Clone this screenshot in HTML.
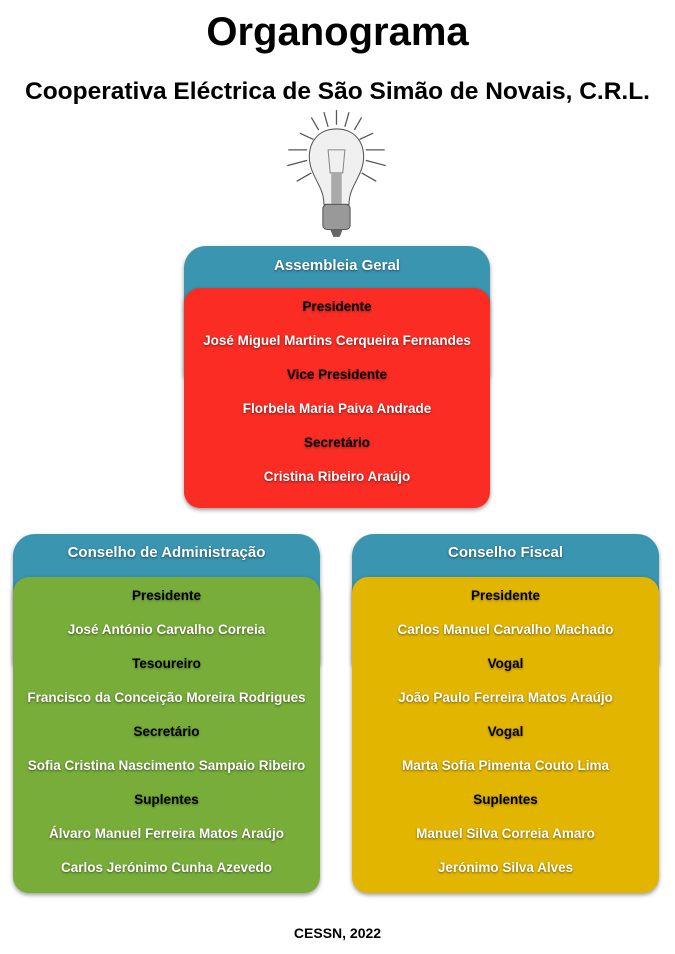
<!DOCTYPE html>
<html><head><meta charset="utf-8"><style>
body{margin:0;width:675px;height:954px;background:#fff;font-family:"Liberation Sans",sans-serif;position:relative;overflow:hidden}
.t{position:absolute;left:0;width:675px;text-align:center;font-weight:bold;color:#000}
.hd{position:absolute;background:#3a95b0;border-radius:22px 22px 0 0;color:#fff;font-weight:bold;font-size:15px;text-align:center;box-shadow:0 2px 4px rgba(0,0,0,.4);text-shadow:0 1px 2px rgba(0,0,0,.5)}
.bd{position:absolute;border-radius:16px;box-shadow:0 2px 4px rgba(0,0,0,.4)}
.r{position:absolute;left:0;width:100%;text-align:center;font-weight:bold;font-size:13.5px;line-height:18px}
.k{color:#000;text-shadow:0 1px 2px rgba(0,0,0,.35)}
.w{color:#fff;text-shadow:0 1px 2px rgba(0,0,0,.5)}
</style></head><body>
<div class="t" style="top:10px;font-size:40px">Organograma</div>
<div class="t" style="top:78px;font-size:24.5px">Cooperativa Eléctrica de São Simão de Novais, C.R.L.</div>
<svg style="position:absolute;left:282px;top:108px" width="110" height="132" viewBox="0 0 105 126">
<g stroke="#555" stroke-width="1.2">
<line x1="52" y1="2" x2="52" y2="16"/><line x1="40" y1="4" x2="44" y2="18"/><line x1="64" y1="4" x2="60" y2="18"/>
<line x1="28" y1="9" x2="35" y2="21"/><line x1="76" y1="9" x2="69" y2="21"/>
<line x1="17" y1="24" x2="30" y2="30"/><line x1="87" y1="24" x2="74" y2="30"/>
<line x1="6" y1="40" x2="24" y2="40"/><line x1="98" y1="40" x2="80" y2="40"/>
<line x1="5" y1="55" x2="24" y2="50"/><line x1="99" y1="55" x2="80" y2="50"/>
<line x1="14" y1="70" x2="28" y2="62"/><line x1="90" y1="70" x2="76" y2="62"/>
</g>
<path d="M52 20 C30 20 22 40 28 58 C33 72 40 78 40 92 L64 92 C64 78 71 72 76 58 C82 40 74 20 52 20Z" fill="#f0f0f0" stroke="#555"/>
<path d="M46 62 L44 40 L60 40 L58 62Z" fill="none" stroke="#888"/>
<rect x="47" y="62" width="10" height="30" fill="#aaa"/>
<rect x="39" y="92" width="26" height="24" rx="4" fill="#999" stroke="#555"/>
<path d="M46 116 L58 116 L55 123 L49 123Z" fill="#666"/>
</svg>

<div class="hd" style="left:184px;top:246px;width:306px;height:130px;line-height:40px">Assembleia Geral</div>
<div class="bd" style="left:184px;top:288px;width:306px;height:220px;background:#fa2c24">
<div class="r k" style="top:10px">Presidente</div>
<div class="r w" style="top:44px">José Miguel Martins Cerqueira Fernandes</div>
<div class="r k" style="top:78px">Vice Presidente</div>
<div class="r w" style="top:112px">Florbela Maria Paiva Andrade</div>
<div class="r k" style="top:146px">Secretário</div>
<div class="r w" style="top:180px">Cristina Ribeiro Araújo</div>
</div>

<div class="hd" style="left:13px;top:534px;width:307px;height:130px;line-height:38px">Conselho de Administração</div>
<div class="bd" style="left:13px;top:577px;width:307px;height:316px;background:#78ad3a">
<div class="r k" style="top:10px">Presidente</div>
<div class="r w" style="top:44px">José António Carvalho Correia</div>
<div class="r k" style="top:78px">Tesoureiro</div>
<div class="r w" style="top:112px">Francisco da Conceição Moreira Rodrigues</div>
<div class="r k" style="top:146px">Secretário</div>
<div class="r w" style="top:180px">Sofia Cristina Nascimento Sampaio Ribeiro</div>
<div class="r k" style="top:214px">Suplentes</div>
<div class="r w" style="top:248px">Álvaro Manuel Ferreira Matos Araújo</div>
<div class="r w" style="top:282px">Carlos Jerónimo Cunha Azevedo</div>
</div>

<div class="hd" style="left:352px;top:534px;width:307px;height:130px;line-height:38px">Conselho Fiscal</div>
<div class="bd" style="left:352px;top:577px;width:307px;height:316px;background:#e2b500">
<div class="r k" style="top:10px">Presidente</div>
<div class="r w" style="top:44px">Carlos Manuel Carvalho Machado</div>
<div class="r k" style="top:78px">Vogal</div>
<div class="r w" style="top:112px">João Paulo Ferreira Matos Araújo</div>
<div class="r k" style="top:146px">Vogal</div>
<div class="r w" style="top:180px">Marta Sofia Pimenta Couto Lima</div>
<div class="r k" style="top:214px">Suplentes</div>
<div class="r w" style="top:248px">Manuel Silva Correia Amaro</div>
<div class="r w" style="top:282px">Jerónimo Silva Alves</div>
</div>

<div class="t" style="top:925px;font-size:14px">CESSN, 2022</div>
</body></html>
